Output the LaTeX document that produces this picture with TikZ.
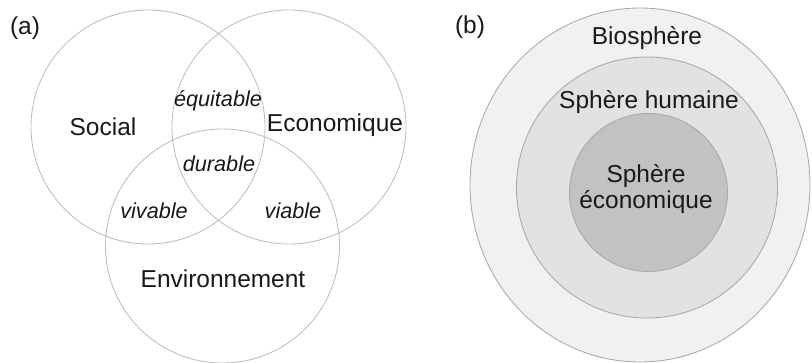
\documentclass[tikz,border=0pt]{standalone}
\usepackage{fontspec}
\setmainfont{Liberation Sans}
\usepackage{xcolor}
\usetikzlibrary{calc}

\definecolor{vennline}{HTML}{BDBDBD}
\definecolor{ringline}{HTML}{A8A8A8}
\definecolor{bio}{HTML}{F1F1F1}
\definecolor{humaine}{HTML}{E2E2E2}
\definecolor{eco}{HTML}{C2C2C2}

\begin{document}
\begin{tikzpicture}[
        x=0.025cm,
        y=-0.025cm,
        word/.style={font=\fontsize{17.4}{20}\selectfont, text=black!90, inner sep=0pt},
        overlap/.style={font=\fontsize{15.4}{18}\selectfont\itshape, text=black!90, inner sep=0pt},
        venn/.style={draw=vennline, line width=0.6pt},
        ring/.style={draw=ringline, line width=0.6pt},
    ]

    \useasboundingbox (0,0) rectangle (812,363);

    % (a) three circles
    \def\r{117}

    \draw[venn] (148,127) circle (\r);
    \draw[venn] (289,127) circle (\r);
    \draw[venn] (222.5,246) circle (\r);

    \node[word] (tagA) at (25,28) {(a)};
    \node[word] (social) at (103,127) {Social};
    \node[word] (economique) at (335,125) {Economique};
    \node[word] (environnement) at (223,279) {Environnement};

    \node[overlap] (equitable) at (218,101) {équitable};
    \node[overlap] (durable) at (219,164) {durable};
    \node[overlap] (vivable) at (154,211) {vivable};
    \node[overlap] (viable) at (293,211) {viable};

    % (b) nested spheres
    \filldraw[ring, fill=bio] (640,185) ellipse (170 and 177);
    \filldraw[ring, fill=humaine] (647,187.5) circle (130.5);
    \filldraw[ring, fill=eco] (648.5,192.5) circle (79);

    \node[word] (tagB) at (470,27) {(b)};
    \node[word] (biosphere) at (647,38) {Biosphère};
    \node[word] (humaine) at (649,102) {Sphère humaine};
    \node[word, align=center] (economie) at (646,189) {Sphère\\[-1pt]économique};

\end{tikzpicture}
\end{document}
